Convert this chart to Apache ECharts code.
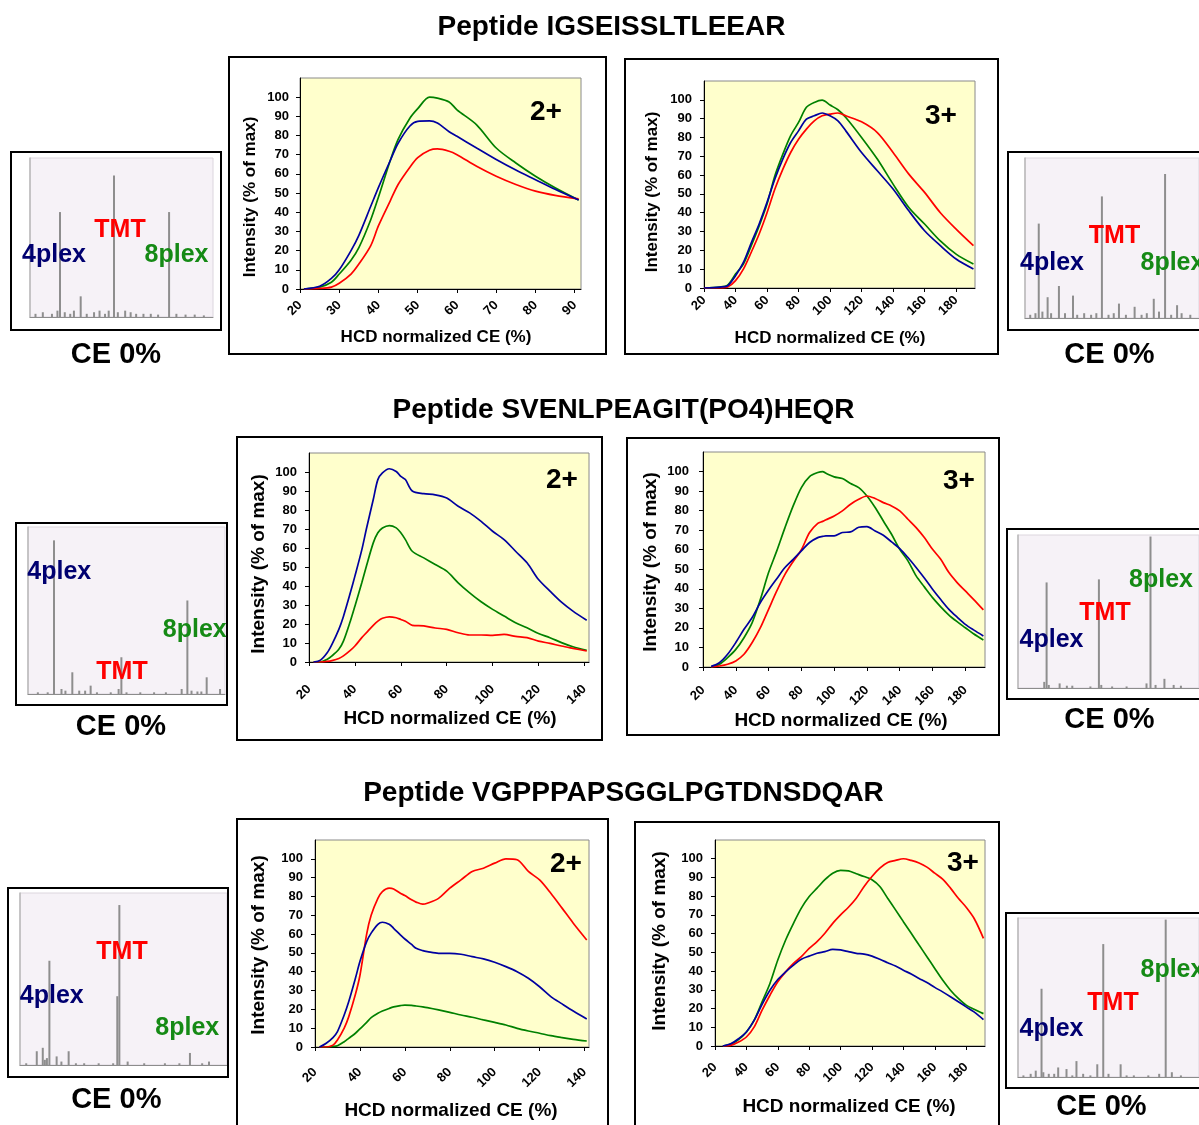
<!DOCTYPE html>
<html><head><meta charset="utf-8">
<script src="https://cdn.jsdelivr.net/npm/echarts@6/dist/echarts.min.js"></script>
<style>html,body{margin:0;padding:0;background:#fff}#c{width:1199px;height:1125px}</style>
</head><body><div id="c"></div>
<script>
// ---------- DATA ----------
const titles = ['Peptide IGSEISSLTLEEAR', 'Peptide SVENLPEAGIT(PO4)HEQR', 'Peptide VGPPPAPSGGLPGTDNSDQAR'];
const chargeLabels = ['2+', '3+', '2+', '3+', '2+', '3+'];
const xAxisTitle = 'HCD normalized CE (%)';
const yAxisTitle = 'Intensity (% of max)';
const yTicks = [0, 10, 20, 30, 40, 50, 60, 70, 80, 90, 100];

// Panel A: IGSEISSLTLEEAR 2+
const aX     = [21, 25, 28, 30, 33, 35, 38, 40, 43, 45, 48, 50, 53, 55, 58, 60, 65, 70, 75, 80, 85, 91];
const aBlue  = [0, 1.4, 5.5, 10, 20, 28, 43, 53, 67, 76, 85, 87.4, 87.6, 86.5, 82, 79.6, 73.5, 67.5, 62, 57, 52, 46.4];
const aGreen = [0, 1, 3.5, 7.8, 15, 21.6, 36, 48, 67, 78, 89, 94, 100, 99.5, 97.5, 93.4, 85.6, 73.5, 65.7, 58.8, 52.8, 46.4];
const aRed   = [0, 0.3, 1, 3, 7.8, 13, 22.5, 33, 46, 54.5, 63.5, 68.5, 72.3, 73, 71.8, 70, 64, 58.8, 54.5, 51, 48.8, 47];

// Panel B: IGSEISSLTLEEAR 3+
const bX     = [20, 30, 35, 40, 45, 50, 55, 60, 65, 70, 75, 80, 85, 90, 95, 100, 105, 110, 120, 130, 140, 150, 160, 170, 180, 191];
const bBlue  = [0, 0.5, 1.2, 6.5, 13.6, 24, 34, 45.5, 58, 68.5, 77.3, 83.5, 89.7, 91.5, 93, 91.5, 88.8, 83.5, 72, 62.3, 52.6, 41, 30.4, 22.5, 15.4, 10.1];
const bGreen = [0, 0.5, 1.5, 7.4, 12.7, 22.5, 33, 44.6, 59.6, 71, 81, 88, 96, 98.6, 99.8, 97.2, 94.7, 90.6, 80, 68.5, 55.2, 42.8, 34, 25, 18, 12.7];
const bRed   = [0, 0, 0.5, 3.9, 10, 19, 28.7, 40, 52.6, 63, 72, 79, 84.4, 88.8, 91.5, 92.4, 93, 91.5, 88.3, 82.6, 72, 60.5, 50.8, 40, 31.3, 22.5];

// Panel C: SVENLPEAGIT(PO4)HEQR 2+
const cX     = [22, 25, 28, 30, 33, 35, 38, 40, 43, 45, 48, 50, 52, 55, 58, 60, 62, 65, 70, 75, 80, 85, 90, 95, 100, 105, 110, 115, 120, 125, 130, 135, 141];
const cBlue  = [0, 1, 5, 9.3, 17.2, 24, 36.4, 45.2, 59, 70, 85.5, 96, 99.5, 101.7, 100.3, 97.7, 96, 90, 88.6, 88, 86.3, 82, 78.5, 74, 68.8, 64.4, 58.3, 52.2, 43.4, 37.3, 31.5, 26.8, 22];
const cGreen = [0, 0, 1.5, 3.2, 6.7, 11, 21.5, 29.4, 41.7, 50.4, 62.7, 68, 70.5, 71.8, 70.6, 68, 64.4, 58.3, 54.8, 51.3, 47.8, 41.7, 36.4, 31.7, 27.7, 24.2, 20.7, 18, 15, 12.8, 10.2, 8, 6.1];
const cRed   = [0, 0, 0.3, 0.7, 1.8, 3.2, 6.1, 8.4, 12.8, 15.4, 19.3, 21.5, 23, 23.8, 23.3, 22.4, 21.5, 19.3, 19, 17.9, 17.2, 15.4, 14.2, 14.2, 14, 14.5, 13.5, 12.8, 11, 9.8, 8.4, 7.2, 5.8];

// Panel D: SVENLPEAGIT(PO4)HEQR 3+
const dX     = [25, 30, 35, 40, 45, 50, 55, 60, 65, 70, 75, 80, 85, 90, 93, 95, 100, 105, 110, 115, 120, 125, 130, 135, 140, 145, 150, 155, 160, 165, 170, 175, 180, 185, 191];
const dBlue  = [0.3, 2.2, 6.5, 12.5, 19.3, 25.3, 33, 39.4, 45.2, 50.9, 55.1, 59.4, 63.7, 66.2, 66.8, 67.1, 67.1, 68.8, 69.1, 71.5, 71.8, 69.6, 67.4, 64, 60.6, 56, 50.9, 45.5, 39.8, 34.5, 29.5, 25.5, 21.8, 19, 15.9];
const dGreen = [0, 1.4, 4.8, 9, 15, 22.7, 34.6, 48.3, 59.4, 71.3, 82.4, 91.8, 97.4, 99.5, 100, 99.1, 97.3, 96.4, 93.9, 91.8, 87.5, 81.6, 74.7, 67.9, 60.2, 54.3, 46.6, 41, 35.5, 30.8, 26.6, 23.2, 20.1, 17, 13.8];
const dRed   = [0, 0.5, 1.4, 3.1, 6.5, 12.5, 20.1, 29.5, 38.9, 47.4, 54, 60, 68.8, 73.5, 74.5, 75.3, 77.3, 79.9, 83.3, 85.8, 87.5, 86.2, 84.1, 82.4, 79.9, 75.6, 71.3, 66.2, 60.2, 55.1, 48.3, 43.2, 38.9, 34.6, 29.2];

// Panel E: VGPPPAPSGGLPGTDNSDQAR 2+
const eX     = [22, 25, 28, 30, 33, 35, 38, 40, 43, 45, 48, 50, 53, 55, 58, 60, 63, 65, 68, 70, 75, 80, 85, 90, 95, 100, 105, 110, 115, 120, 125, 130, 135, 141];
const eBlue  = [0, 2, 5, 8.2, 17, 24, 36.5, 45.4, 56, 60.5, 65.2, 66.3, 65.2, 63.1, 59.6, 57.4, 54.5, 52.5, 51.2, 50.7, 49.8, 49.8, 49.3, 48, 46.8, 45, 42.7, 40, 36.5, 32, 26.8, 22.9, 19.1, 14.9];
const eGreen = [0, 0, 0.3, 0.7, 2.8, 4.6, 7.3, 9.6, 13.1, 15.6, 17.9, 19.1, 20.5, 21.3, 22, 22.3, 22.1, 21.8, 21.3, 20.9, 19.7, 18.4, 17, 15.8, 14.4, 13.1, 11.7, 9.9, 8.5, 7.3, 6, 5, 4.1, 3.2];
const eRed   = [0, 0, 1, 3.7, 10, 16, 28, 38, 60, 70, 79, 82.6, 84.4, 84, 81.7, 80.5, 78.2, 77, 75.9, 76.4, 79, 84.4, 88.8, 93.3, 95, 97.7, 100, 99.5, 93.3, 88.8, 81.7, 73.8, 65.8, 56.9];

// Panel F: VGPPPAPSGGLPGTDNSDQAR 3+
const fX     = [25, 30, 35, 40, 45, 50, 55, 60, 65, 70, 75, 80, 85, 90, 95, 100, 105, 110, 115, 120, 125, 130, 135, 140, 145, 150, 155, 160, 165, 170, 175, 180, 185, 191];
const fBlue  = [0, 1.2, 3.9, 7.5, 13.8, 22.3, 29.8, 35.5, 39.6, 43.2, 46.3, 48, 49.5, 50.4, 51.6, 51.3, 50.4, 49.5, 49.1, 48, 46.3, 44.5, 42.7, 40.5, 38.4, 36.1, 33.9, 31.3, 28.9, 26.3, 23.6, 20.9, 18.2, 14.1];
const fGreen = [0, 0.9, 3.4, 7.5, 13.8, 23.6, 33.4, 45.9, 56.6, 65.5, 73.6, 79.8, 84.3, 88.8, 92.3, 93.8, 93.5, 92, 90.5, 88.8, 85.2, 78.9, 72.7, 66.4, 60.2, 53.9, 47.7, 41.4, 35.2, 29.8, 25.4, 21.8, 19.6, 17.3];
const fRed   = [0, 0.3, 2.1, 4.8, 10.2, 19.1, 27.1, 34.3, 39.6, 44.1, 47.7, 52.1, 55.7, 60.2, 65.5, 70, 74.1, 78.9, 85.2, 90.5, 95, 98, 99.1, 100, 99.1, 97.7, 95.5, 92.3, 89.1, 84.3, 78.9, 74.1, 68.2, 57.5];

// Reporter-ion spectra (CE 0%): [position % of width, height % of max]
const spec1 = [[16.4,66],[27.7,13],[45.9,89],[76,66],[3,2],[7,3],[12,2],[15,4],[19,3],[22,2],[24,4],[31,2],[35,3],[38,4],[41,2],[43,4],[48,3],[52,4],[55,3],[58,2],[62,2],[66,2],[70,1.5],[80,2],[85,1.5],[90,1.5],[95,1]];
const spec2 = [[7.9,59],[13,13],[19.5,20],[27.6,14],[44.2,76],[54,9],[63,7],[74,12],[80.5,90],[87.4,8],[3,2],[6,3],[10,4],[15,3],[23,3],[30,2],[34,3],[38,2],[41,3],[48,2],[51,3],[58,2],[67,2],[70,3],[77,4],[84,2],[90,3],[95,2]];
const spec3 = [[13.2,92],[22.5,13],[31.8,5],[47.4,22],[80.9,56],[90.7,10],[97.5,3],[5,1],[10,1],[17,3],[19,2],[26,2],[29,2],[35,1],[42,1],[46,3],[50,1],[57,1],[64,1],[70,1],[78,3],[83,2],[86,1.5],[88,1.5]];
const spec4 = [[15.8,69],[44.7,71],[73.2,99],[80.9,6],[14.5,4],[17,2],[23,3],[27,1.5],[30,1.5],[40,1],[46,2],[52,1],[60,1],[71,3],[76,2],[86,2],[90,1.5]];
const spec5 = [[8.1,8],[11,10],[14.2,60.6],[17.7,5],[23.5,8],[48,93],[47,40],[82.1,7],[91.3,2],[3,1],[12,3],[13,4],[20,2],[27,1],[31,1],[38,1],[45,1],[52,2],[60,1],[70,1],[77,1],[88,1]];
const spec6 = [[9.8,4],[13,55.5],[22.2,6],[26.8,5],[32.3,10],[43.8,8],[47.1,83.6],[56.7,8],[81.6,99],[3,1],[7,2],[14,3],[17,2],[20,2],[30,1],[36,2],[40,1],[50,2],[60,1],[64,1],[72,1],[78,2],[85,3],[90,1]];
const plexLabels = ['4plex', 'TMT', '8plex'];
const ceLabel = 'CE 0%';

// ---------- LAYOUT / STYLE ----------
const FONT = '"Liberation Sans", Arial, Helvetica, sans-serif';
const C_BLUE = '#0000a0', C_GREEN = '#008000', C_RED = '#ff0000';
const L_NAVY = '#000070', L_GREEN = '#158a15', L_RED = '#ff0000';

const panels = [
  {x: aX, s: [aBlue, aGreen, aRed], grid: {left: 300, top: 78, width: 281, height: 211}, xmax: 91.6, xint: 10, xm: 14, ym: 11,
   box: [229, 57, 377, 297], charge: [546, 112], xname: [436, 337, 17], yname: [250, 197, 17]},
  {x: bX, s: [bBlue, bGreen, bRed], grid: {left: 704, top: 81, width: 271, height: 207}, xmax: 192, xint: 20, xm: 10, ym: 12,
   box: [625, 59, 373, 295], charge: [941, 116], xname: [830, 338, 17], yname: [652, 192, 17]},
  {x: cX, s: [cBlue, cGreen, cRed], grid: {left: 309, top: 453, width: 280, height: 209}, xmax: 142, xint: 20, xm: 25, ym: 12,
   box: [237, 437, 365, 303], charge: [562, 480], xname: [450, 719, 19], yname: [259, 564, 19]},
  {x: dX, s: [dBlue, dGreen, dRed], grid: {left: 703, top: 452, width: 282, height: 215}, xmax: 192, xint: 20, xm: 21, ym: 14,
   box: [627, 438, 372, 297], charge: [959, 481], xname: [841, 721, 19], yname: [651, 562, 19]},
  {x: eX, s: [eBlue, eGreen, eRed], grid: {left: 315, top: 840, width: 274, height: 207}, xmax: 142, xint: 20, xm: 23, ym: 12,
   box: [237, 819, 371, 320], charge: [566, 864], xname: [451, 1111, 19], yname: [259, 945, 19]},
  {x: fX, s: [fBlue, fGreen, fRed], grid: {left: 715, top: 840, width: 270, height: 206}, xmax: 192, xint: 20, xm: 19, ym: 12,
   box: [635, 822, 364, 320], charge: [963, 863], xname: [849, 1107, 19], yname: [660, 941, 19]}
];

const insets = [
  {d: spec1, grid: {left: 30, top: 158, width: 183, height: 159}, box: [11, 152, 210, 178],
   lab: [[54, 255], [120, 230], [176.5, 255]], align8: 'center', ce: [116, 355]},
  {d: spec2, grid: {left: 1025, top: 158, width: 185, height: 160}, box: [1008, 152, 212, 178],
   lab: [[1052, 263], [1114.5, 236], [1140.5, 263]], align8: 'left', ce: [1109.5, 355]},
  {d: spec3, grid: {left: 28, top: 527, width: 197, height: 167}, box: [16, 523, 211, 182],
   lab: [[59.3, 572], [122, 672], [194.8, 630]], align8: 'center', ce: [121, 727]},
  {d: spec4, grid: {left: 1018, top: 535, width: 194, height: 153}, box: [1007, 529, 212, 170],
   lab: [[1051.5, 640], [1105, 613], [1161, 580]], align8: 'center', ce: [1109.5, 720]},
  {d: spec5, grid: {left: 20, top: 893, width: 207, height: 172}, box: [8, 888, 220, 189],
   lab: [[51.8, 996], [122, 952], [187.3, 1028.5]], align8: 'center', ce: [116.3, 1100]},
  {d: spec6, grid: {left: 1018, top: 918, width: 194, height: 159}, box: [1006, 913, 212, 175],
   lab: [[1051.5, 1029], [1113, 1003.5], [1140.5, 970.5]], align8: 'left', ce: [1101.5, 1107]}
];

const grids = [], xAxes = [], yAxes = [], series = [], graphics = [];

function txt(text, x, y, size, color, align, rot) {
  graphics.push({type: 'text', x: x, y: y, rotation: rot || 0, z: 100,
    style: {text: text, font: 'bold ' + size + 'px ' + FONT, fill: color,
      align: align || 'center', verticalAlign: 'middle', textAlign: align || 'center', textVerticalAlign: 'middle'}});
}
function rect(b, w) {
  graphics.push({type: 'rect', z: 90, shape: {x: b[0], y: b[1], width: b[2], height: b[3]},
    style: {fill: 'none', stroke: '#000', lineWidth: w}});
}

// Titles
txt(titles[0], 611.5, 27, 28, '#000');
txt(titles[1], 623.5, 410, 28, '#000');
txt(titles[2], 623.5, 793, 28, '#000');

// Curve panels
panels.forEach((p, i) => {
  const gi = grids.length;
  grids.push(Object.assign({show: true, backgroundColor: '#ffffcc', borderColor: '#8a8a8a', borderWidth: 1}, p.grid));
  xAxes.push({type: 'value', gridIndex: gi, min: 20, max: p.xmax, interval: p.xint,
    axisLine: {show: true, onZero: false, lineStyle: {color: '#000', width: 1}},
    axisTick: {show: true, length: 4, lineStyle: {color: '#000'}},
    splitLine: {show: false},
    axisLabel: {rotate: 45, margin: p.xm, showMaxLabel: false, color: '#000', fontFamily: FONT, fontWeight: 'bold', fontSize: 13}});
  yAxes.push({type: 'value', gridIndex: gi, min: 0, max: 110, interval: 10,
    axisLine: {show: true, lineStyle: {color: '#000', width: 1}},
    axisTick: {show: true, length: 4, lineStyle: {color: '#000'}},
    splitLine: {show: false},
    axisLabel: {margin: p.ym, showMaxLabel: false, color: '#000', fontFamily: FONT, fontWeight: 'bold', fontSize: 13,
      formatter: v => (yTicks.indexOf(v) >= 0 ? String(v) : '')}});
  const cols = [C_BLUE, C_GREEN, C_RED];
  p.s.forEach((vals, k) => {
    series.push({type: 'line', xAxisIndex: gi, yAxisIndex: gi, showSymbol: false, smooth: 0.3, silent: true,
      lineStyle: {color: cols[k], width: 1.7}, itemStyle: {color: cols[k]},
      data: p.x.map((x, j) => [x, vals[j]]), z: 5 + (k === 0 ? 1 : 0)});
  });
  rect(p.box, 2);
  txt(chargeLabels[i], p.charge[0], p.charge[1], 28, '#000');
  txt(xAxisTitle, p.xname[0], p.xname[1], p.xname[2], '#000');
  txt(yAxisTitle, p.yname[0], p.yname[1], p.yname[2], '#000', 'center', Math.PI / 2);
});

// Spectrum insets
insets.forEach((s) => {
  const gi = grids.length;
  grids.push(Object.assign({show: true, backgroundColor: '#f6f2f7', borderColor: '#dcd6de', borderWidth: 1}, s.grid));
  xAxes.push({type: 'value', gridIndex: gi, min: 0, max: 100, axisLabel: {show: false}, axisTick: {show: false},
    splitLine: {show: false}, axisLine: {show: true, onZero: false, lineStyle: {color: '#8c8c8c', width: 1}}});
  yAxes.push({type: 'value', gridIndex: gi, min: 0, max: 100, axisLabel: {show: false}, axisTick: {show: false},
    splitLine: {show: false}, axisLine: {show: true, lineStyle: {color: '#b8b8b8', width: 1.5}}});
  series.push({type: 'bar', xAxisIndex: gi, yAxisIndex: gi, barWidth: 2, silent: true, barGap: '-100%',
    itemStyle: {color: '#8e8e8e'}, data: s.d.map(d => [d[0], d[1]])});
  rect(s.box, 2);
  txt(plexLabels[0], s.lab[0][0], s.lab[0][1], 25, L_NAVY);
  txt(plexLabels[1], s.lab[1][0], s.lab[1][1], 25, L_RED);
  txt(plexLabels[2], s.lab[2][0], s.lab[2][1], 25, L_GREEN, s.align8);
  txt(ceLabel, s.ce[0], s.ce[1], 29, '#000');
});

const chart = echarts.init(document.getElementById('c'), null, {renderer: 'canvas'});
chart.setOption({
  animation: false,
  backgroundColor: '#ffffff',
  grid: grids, xAxis: xAxes, yAxis: yAxes, series: series,
  graphic: {elements: graphics}
});
</script></body></html>
